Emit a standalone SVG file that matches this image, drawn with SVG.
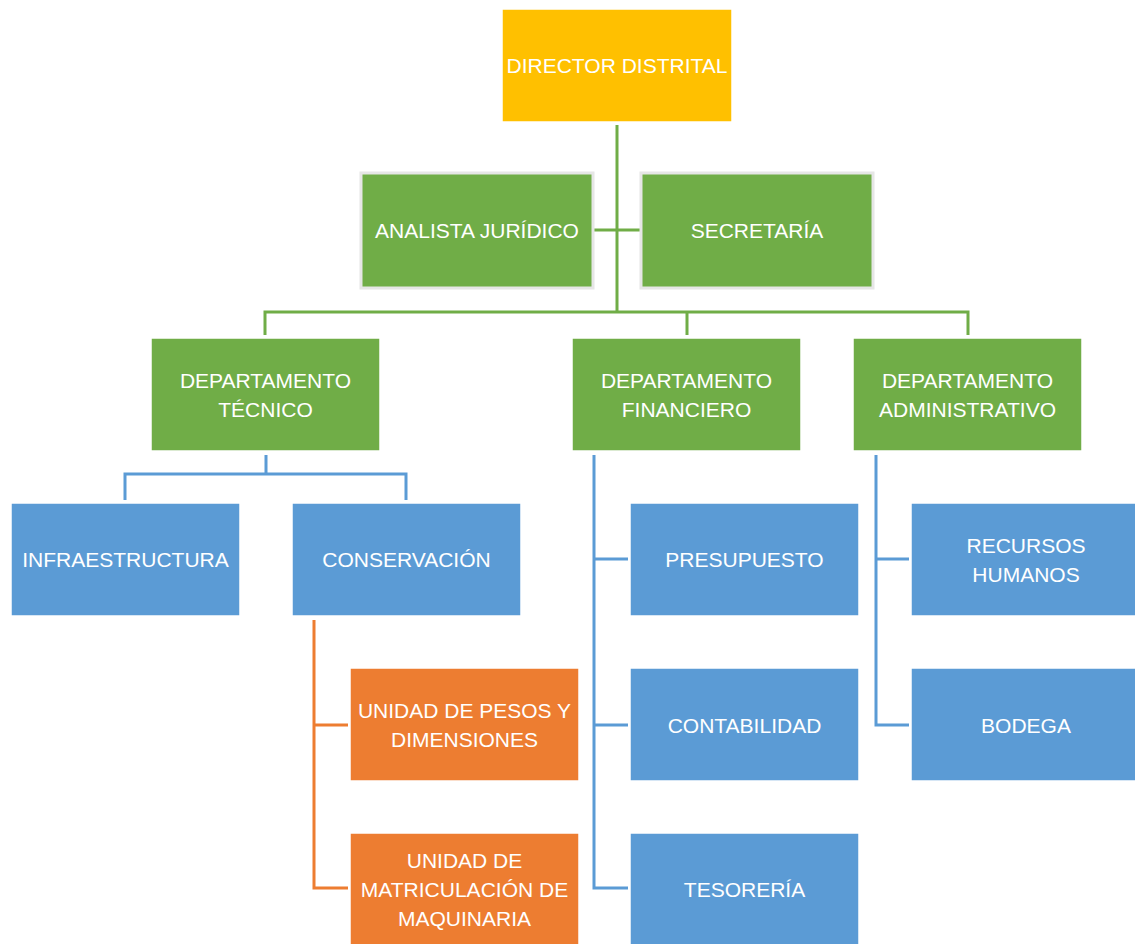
<svg xmlns="http://www.w3.org/2000/svg" width="1135" height="944" viewBox="0 0 1135 944">
<style>
.box{stroke:#ffffff;stroke-width:1.5}
.yel{fill:#FFC000}
.grn{fill:#70AD47}
.blu{fill:#5B9BD5}
.org{fill:#ED7D31}
.side{stroke:#E6E6E6;stroke-width:3}
text{font-family:"Liberation Sans",Arial,sans-serif;font-size:21px;fill:#ffffff;text-anchor:middle;dominant-baseline:central}
.cg{stroke:#70AD47;stroke-width:3;fill:none}
.cb{stroke:#5B9BD5;stroke-width:3;fill:none}
.co{stroke:#ED7D31;stroke-width:3;fill:none}
</style>
<rect width="1135" height="944" fill="#ffffff"/>
<g id="connectors">
<path class="cg" d="M617,125 V312 M593,230 H641 M265,335 V312 H968 V335 M687,312 V335"/>
<path class="cb" d="M266,455 V474 M125,500 V474 H406 V500"/>
<path class="cb" d="M594,455 V888 H628 M594,559 H628 M594,725 H628"/>
<path class="cb" d="M876,455 V725 H909 M876,559 H909"/>
<path class="co" d="M314,620 V888 H348 M314,725 H348"/>
</g>
<g id="director"><rect class="box yel" x="502" y="9" width="230" height="113"/><text x="617" y="65">DIRECTOR DISTRITAL</text></g>
<g id="analista"><rect class="side grn" x="361" y="173" width="232" height="115"/><text x="477" y="230">ANALISTA JURÍDICO</text></g>
<g id="secretaria"><rect class="side grn" x="641" y="173" width="232" height="115"/><text x="757" y="230">SECRETARÍA</text></g>
<g id="dep-tecnico"><rect class="box grn" x="151" y="338" width="229" height="113"/><text x="265.5" y="380">DEPARTAMENTO</text><text x="265.5" y="409">TÉCNICO</text></g>
<g id="dep-financiero"><rect class="box grn" x="572" y="338" width="229" height="113"/><text x="686.5" y="380">DEPARTAMENTO</text><text x="686.5" y="409">FINANCIERO</text></g>
<g id="dep-administrativo"><rect class="box grn" x="853" y="338" width="229" height="113"/><text x="967.5" y="380">DEPARTAMENTO</text><text x="967.5" y="409">ADMINISTRATIVO</text></g>
<g id="infraestructura"><rect class="box blu" x="11" y="503" width="229" height="113"/><text x="125.5" y="559">INFRAESTRUCTURA</text></g>
<g id="conservacion"><rect class="box blu" x="292" y="503" width="229" height="113"/><text x="406.5" y="559">CONSERVACIÓN</text></g>
<g id="presupuesto"><rect class="box blu" x="630" y="503" width="229" height="113"/><text x="744.5" y="559">PRESUPUESTO</text></g>
<g id="contabilidad"><rect class="box blu" x="630" y="668" width="229" height="113"/><text x="744.5" y="725">CONTABILIDAD</text></g>
<g id="tesoreria"><rect class="box blu" x="630" y="833" width="229" height="113"/><text x="744.5" y="889">TESORERÍA</text></g>
<g id="recursos"><rect class="box blu" x="911" y="503" width="229" height="113"/><text x="1026" y="545">RECURSOS</text><text x="1026" y="574">HUMANOS</text></g>
<g id="bodega"><rect class="box blu" x="911" y="668" width="229" height="113"/><text x="1026" y="725">BODEGA</text></g>
<g id="unidad-pesos"><rect class="box org" x="350" y="668" width="229" height="113"/><text x="464.5" y="710">UNIDAD DE PESOS Y</text><text x="464.5" y="739">DIMENSIONES</text></g>
<g id="unidad-matriculacion"><rect class="box org" x="350" y="833" width="229" height="113"/><text x="464.5" y="860">UNIDAD DE</text><text x="464.5" y="889">MATRICULACIÓN DE</text><text x="464.5" y="918">MAQUINARIA</text></g>
</svg>
